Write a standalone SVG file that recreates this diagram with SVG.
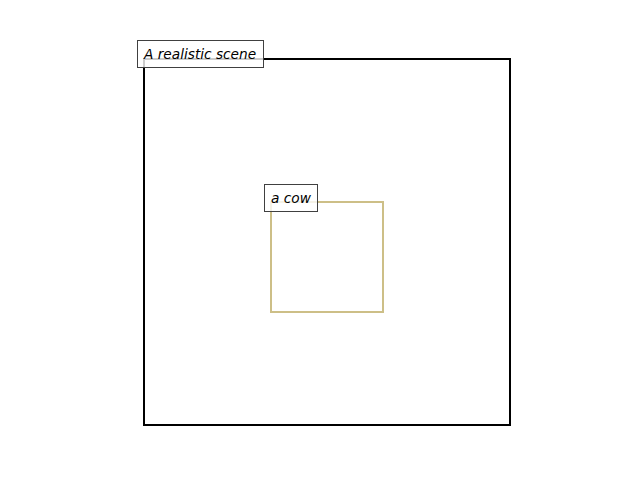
<svg xmlns="http://www.w3.org/2000/svg" width="640" height="480" viewBox="0 0 640 480">
<style>
.lbl{fill:#ffffff;fill-opacity:0.8;stroke:#404040;stroke-width:1}
.txt{font-family:"DejaVu Sans",sans-serif;font-style:italic;font-size:13.7px;fill:#000}
</style>
<rect width="640" height="480" fill="#fff"/>
<g id="scene">
<rect x="144" y="59" width="366" height="366" fill="none" stroke="#000" stroke-width="2"/>
</g>
<g id="cow">
<rect x="271" y="202" width="112" height="110" fill="none" stroke="#cdbf87" stroke-width="2"/>
</g>
<g id="scene-label">
<rect class="lbl" x="137.5" y="40.5" width="126" height="27"/>
<text class="txt" x="144" y="58.5">A realistic scene</text>
</g>
<g id="cow-label">
<rect class="lbl" x="264.5" y="184.5" width="53" height="27"/>
<text class="txt" x="271" y="202.5">a cow</text>
</g>
<g id="connectors"/>
</svg>
